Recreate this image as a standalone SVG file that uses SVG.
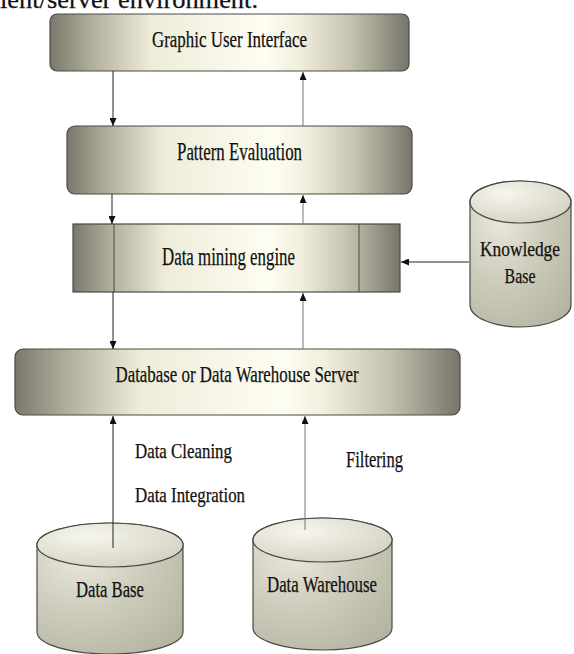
<svg xmlns="http://www.w3.org/2000/svg" width="574" height="654" viewBox="0 0 574 654">
<style>
text{font-family:"Liberation Serif","Times New Roman",serif;fill:#111;stroke:#111;stroke-width:0.25;}
.box{stroke:#4a4a44;stroke-width:1.2;}
.dn{stroke:#222;stroke-width:1;fill:none;}
.up{stroke:#777;stroke-width:1;fill:none;}
.cyl{stroke:#4a4a44;stroke-width:1.2;}
</style>
<defs>
<linearGradient id="bg" x1="0" y1="0" x2="1" y2="0">
<stop offset="0" stop-color="#7a786b"/>
<stop offset="0.12" stop-color="#b2b09d"/>
<stop offset="0.28" stop-color="#eeecd9"/>
<stop offset="0.6" stop-color="#fefdf2"/>
<stop offset="0.7" stop-color="#f0eedb"/>
<stop offset="0.84" stop-color="#c4c2ae"/>
<stop offset="1" stop-color="#77756a"/>
</linearGradient>
<radialGradient id="cb" cx="0.3" cy="0.25" r="0.9">
<stop offset="0" stop-color="#e9e8dc"/>
<stop offset="0.5" stop-color="#cdcbba"/>
<stop offset="1" stop-color="#b5b3a1"/>
</radialGradient>
<radialGradient id="ct" cx="0.35" cy="0.3" r="0.8">
<stop offset="0" stop-color="#f7f6ee"/>
<stop offset="1" stop-color="#d2d0c0"/>
</radialGradient>
<marker id="ah" markerUnits="userSpaceOnUse" markerWidth="8" markerHeight="7" refX="8" refY="3.5" orient="auto">
<path d="M0,0 L8,3.5 L0,7 z" fill="#111"/>
</marker>
</defs>
<rect width="574" height="654" fill="#fff"/>
<text x="0" y="8" font-size="26" textLength="258" lengthAdjust="spacingAndGlyphs">ient/server environment.</text>

<g id="gui">
<rect class="box" x="50" y="14" width="359" height="57" rx="7" fill="url(#bg)"/>
<text x="229.5" y="47" font-size="23" text-anchor="middle" textLength="155" lengthAdjust="spacingAndGlyphs">Graphic User Interface</text>
</g>

<g id="pattern">
<rect class="box" x="67" y="126" width="345" height="68" rx="8" fill="url(#bg)"/>
<text x="239.5" y="160" font-size="25" text-anchor="middle" textLength="125" lengthAdjust="spacingAndGlyphs">Pattern Evaluation</text>
</g>

<g id="engine">
<rect class="box" x="73" y="224" width="327" height="68" fill="url(#bg)"/>
<line x1="114" y1="224" x2="114" y2="292" stroke="#4a4a44" stroke-width="1"/>
<line x1="359" y1="224" x2="359" y2="292" stroke="#4a4a44" stroke-width="1"/>
<text x="228.5" y="265" font-size="26" text-anchor="middle" textLength="133" lengthAdjust="spacingAndGlyphs">Data mining engine</text>
</g>

<g id="knowledge">
<path class="cyl" d="M470,202 A50.5,21 0 0 1 571,202 L571,305 A50.5,22 0 0 1 470,305 Z" fill="url(#cb)"/>
<ellipse class="cyl" cx="520.5" cy="202" rx="50.5" ry="21" fill="url(#ct)"/>
<text x="520" y="256" font-size="22" text-anchor="middle" textLength="80" lengthAdjust="spacingAndGlyphs">Knowledge</text>
<text x="520" y="283" font-size="22" text-anchor="middle" textLength="31" lengthAdjust="spacingAndGlyphs">Base</text>
</g>

<g id="server">
<rect class="box" x="15" y="349" width="445" height="66" rx="8" fill="url(#bg)"/>
<text x="237" y="382" font-size="24" text-anchor="middle" textLength="243" lengthAdjust="spacingAndGlyphs">Database or Data Warehouse Server</text>
</g>

<g id="labels">
<text x="135" y="458" font-size="21" textLength="97" lengthAdjust="spacingAndGlyphs">Data Cleaning</text>
<text x="135" y="502" font-size="21" textLength="110" lengthAdjust="spacingAndGlyphs">Data Integration</text>
<text x="346" y="467" font-size="23" textLength="57" lengthAdjust="spacingAndGlyphs">Filtering</text>
</g>

<g id="database">
<path class="cyl" d="M37,545 A73,22 0 0 1 183,545 L183,632 A73,22 0 0 1 37,632 Z" fill="url(#cb)"/>
<ellipse class="cyl" cx="110" cy="545" rx="73" ry="22" fill="url(#ct)"/>
<text x="110" y="597" font-size="23" text-anchor="middle" textLength="68" lengthAdjust="spacingAndGlyphs">Data Base</text>
</g>

<g id="warehouse">
<path class="cyl" d="M253,540 A69.5,22 0 0 1 392,540 L392,628 A69.5,22 0 0 1 253,628 Z" fill="url(#cb)"/>
<ellipse class="cyl" cx="322.5" cy="540" rx="69.5" ry="22" fill="url(#ct)"/>
<text x="322" y="592" font-size="24" text-anchor="middle" textLength="110" lengthAdjust="spacingAndGlyphs">Data Warehouse</text>
</g>

<g id="connectors">
<line class="dn" x1="113" y1="71" x2="113" y2="126" marker-end="url(#ah)"/>
<line class="up" x1="303" y1="126" x2="303" y2="72" marker-end="url(#ah)"/>
<line class="dn" x1="112" y1="194" x2="112" y2="224" marker-end="url(#ah)"/>
<line class="up" x1="303" y1="224" x2="303" y2="195" marker-end="url(#ah)"/>
<line class="dn" x1="469" y1="262" x2="401" y2="262" marker-end="url(#ah)"/>
<line class="dn" x1="113" y1="292" x2="113" y2="349" marker-end="url(#ah)"/>
<line class="up" x1="303" y1="349" x2="303" y2="293" marker-end="url(#ah)"/>
<line class="dn" x1="113" y1="548" x2="113" y2="416" marker-end="url(#ah)"/>
<line class="up" x1="305" y1="530" x2="305" y2="416" marker-end="url(#ah)"/>
</g>
</svg>
